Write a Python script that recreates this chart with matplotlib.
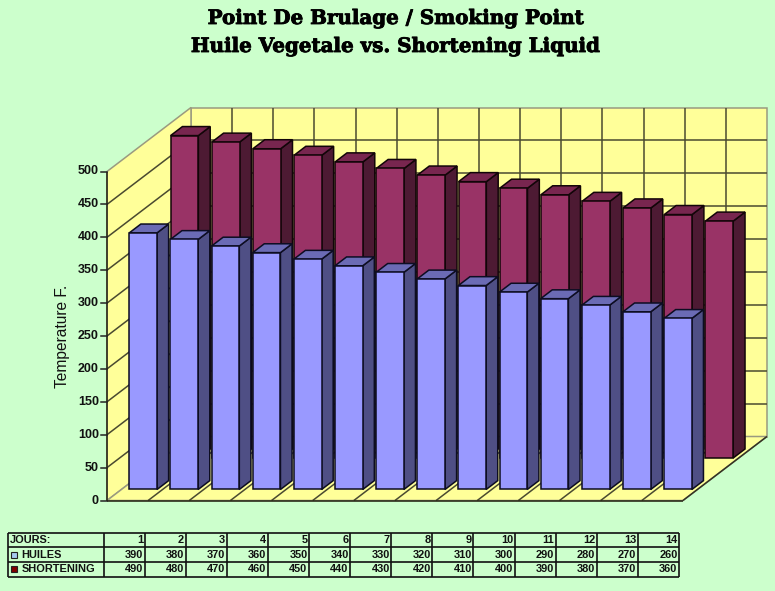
"""
Point de brulage: barres 3D obliques dessinees a la main avec un tableau de donnees
"""
import matplotlib.pyplot as plt
import matplotlib.patheffects as pe

plt.rcParams['font.family'] = ['Liberation Sans', 'DejaVu Sans']

# donnees
jours = [1, 2, 3, 4, 5, 6, 7, 8, 9, 10, 11, 12, 13, 14]
huiles = [390, 380, 370, 360, 350, 340, 330, 320, 310, 300, 290, 280, 270, 260]
shortening = [490, 480, 470, 460, 450, 440, 430, 420, 410, 400, 390, 380, 370, 360]
yticks = [0, 50, 100, 150, 200, 250, 300, 350, 400, 450, 500]
titre = ["Point De Brulage / Smoking Point", "Huile Vegetale vs. Shortening Liquid"]

# couleurs
BG = '#CCFFCC'
WALL = '#FFFF99'
GRID = '#4A4A30'
EDGE = '#9A9A80'
BLUE = ('#9999FF', '#4F4F85', '#6B6BB5', '#0D0D22')
RED = ('#993366', '#4D1A33', '#78264F', '#120508')
SWATCH = ('#A6CAF0', '#800000')

# geometrie de la projection oblique (pixels)
X0, Y0 = 107, 500.5
SLOT = 41.14
PX_PER_UNIT = 0.658
DX, DY = 84, 64
BAR_OFFSET, BAR_WIDTH = 0.19, 0.675


def project(s, v, d):
    """categorie s, valeur v, profondeur d (0..1) -> pixels"""
    return X0 + s * SLOT + d * DX, Y0 - v * PX_PER_UNIT - d * DY


def face(ax, pts, color, edge=None, lw=1.1, z=1):
    xs, ys = zip(*[project(*p) for p in pts])
    ax.fill(xs, ys, facecolor=color, edgecolor=edge or 'none', linewidth=lw,
            zorder=z, joinstyle='miter')


def line(ax, p0, p1, color=GRID, lw=1.1, z=2):
    x0, y0 = project(*p0)
    x1, y1 = project(*p1)
    ax.plot([x0, x1], [y0, y1], color=color, lw=lw, zorder=z, solid_capstyle='butt')


def draw_bar(ax, s, v, d0, d1, colors, z):
    front, side, top, edge = colors
    s0, s1 = s + BAR_OFFSET, s + BAR_OFFSET + BAR_WIDTH
    face(ax, [(s1, 0, d0), (s1, 0, d1), (s1, v, d1), (s1, v, d0)], side, edge, z=z)
    face(ax, [(s0, v, d0), (s1, v, d0), (s1, v, d1), (s0, v, d1)], top, edge, z=z)
    face(ax, [(s0, 0, d0), (s1, 0, d0), (s1, v, d0), (s0, v, d0)], front, edge, z=z)


fig = plt.figure(figsize=(7.75, 5.91), dpi=100, facecolor=BG)
ax = fig.add_axes([0, 0, 1, 1])
ax.set_xlim(0, 775)
ax.set_ylim(591, 0)
ax.axis('off')

n = len(jours)
top_v = yticks[-1]

# parois et sol
face(ax, [(0, 0, 1), (n, 0, 1), (n, top_v, 1), (0, top_v, 1)], WALL, EDGE)
face(ax, [(0, 0, 0), (0, 0, 1), (0, top_v, 1), (0, top_v, 0)], WALL, EDGE)
face(ax, [(0, 0, 0), (n, 0, 0), (n, 0, 1), (0, 0, 1)], WALL, EDGE)

# grille
for v in yticks[1:-1]:
    line(ax, (0, v, 0), (0, v, 1))
    line(ax, (0, v, 1), (n, v, 1))
for s in range(1, n):
    line(ax, (s, 0, 1), (s, top_v, 1))
    line(ax, (s, 0, 0), (s, 0, 1))
line(ax, (0, 0, 0), (n, 0, 0), color='#222211', lw=1.1)
line(ax, (0, 0, 0), (0, top_v, 0), color='#222211', lw=1.1)
line(ax, (n, 0, 0), (n, 0, 1), color='#333322', lw=1.1)

# barres: arriere puis avant
for i, v in enumerate(shortening):
    draw_bar(ax, i, v, 0.664, 0.805, RED, 3 + i * 0.01)
for i, v in enumerate(huiles):
    draw_bar(ax, i, v, 0.172, 0.31, BLUE, 4 + i * 0.01)

# axe des valeurs
for v in yticks:
    x, y = project(0, v, 0)
    ax.plot([x - 6, x], [y, y], color='#222222', lw=1.1, zorder=2)
    ax.text(99, y, str(v), ha='right', va='center', fontsize=9, fontweight='bold',
            color='#111111')
ax.text(63, 336, 'Temperature F.', rotation=90, ha='center', va='center',
        fontsize=11.2, color='#111111')

# titre
for yc, ligne in zip([18, 46], titre):
    ax.text(395.5, yc, ligne, ha='center', va='center', fontsize=14.3,
            family='DejaVu Serif', fontweight='bold', color='black',
            path_effects=[pe.withStroke(linewidth=0.6, foreground='black')])

# tableau
TX0, TX1, TX2 = 8, 103.5, 679
TROWS = [532.5, 547, 562, 576.5]
col_w = (TX2 - TX1) / n
ax.hlines(TROWS, TX0, TX2, color='#111111', lw=1.2)
ax.vlines([TX0] + [TX1 + k * col_w for k in range(n + 1)], TROWS[0], TROWS[-1],
          color='#111111', lw=1.2)
lignes = [('JOURS:', jours), ('HUILES', huiles), ('SHORTENING', shortening)]
for r, (label, vals) in enumerate(lignes):
    yc = (TROWS[r] + TROWS[r + 1]) / 2
    ax.text(10 if r == 0 else 21.5, yc, label, ha='left', va='center', fontsize=7.9,
            fontweight='bold', color='#111111')
    if r > 0:
        ax.fill([11, 16.5, 16.5, 11], [yc - 3, yc - 3, yc + 3, yc + 3],
                facecolor=SWATCH[r - 1], edgecolor='#222222', linewidth=0.8)
    for k, val in enumerate(vals):
        ax.text(TX1 + (k + 1) * col_w - 1.5, yc, str(val), ha='right', va='center',
                fontsize=7.9, fontweight='bold', color='#111111')

fig.savefig('out.png', dpi=100, facecolor=BG)
plt.close(fig)
